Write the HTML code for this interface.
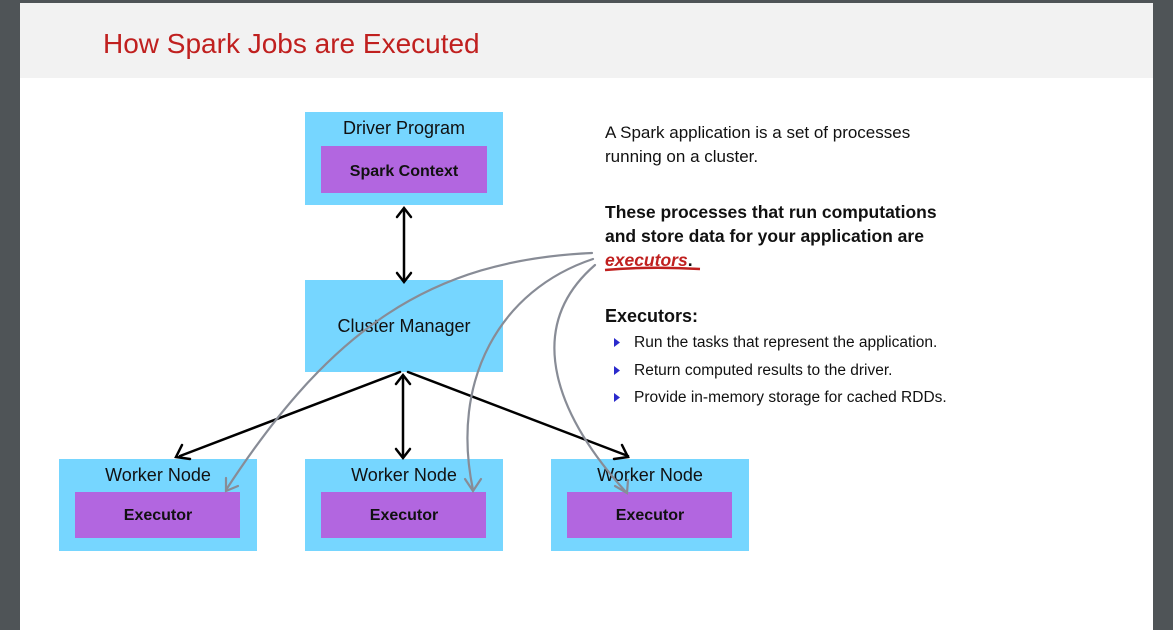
<!DOCTYPE html>
<html><head><meta charset="utf-8"><style>
html,body{margin:0;padding:0}
body{width:1173px;height:630px;background:#4f5457;position:relative;overflow:hidden;font-family:"Liberation Sans","DejaVu Sans",sans-serif}
#page{position:absolute;left:20px;top:3px;width:1133px;height:627px;background:#fff}
#hdr{position:absolute;left:0;top:0;width:1133px;height:75px;background:#f2f2f2}
#title{position:absolute;left:83px;top:25px;font-size:28px;color:#c0201f}
.t{position:absolute;color:#111;font-size:17px;line-height:24px}
</style></head><body>
<div id="page"><div id="hdr"><div id="title">How Spark Jobs are Executed</div></div></div>
<svg width="1173" height="630" style="position:absolute;left:0;top:0">
<g font-family="Liberation Sans, sans-serif">
<rect x="305" y="112" width="198" height="93" fill="#76d6ff"/>
<text x="404" y="134" font-size="18" text-anchor="middle" fill="#111">Driver Program</text>
<rect x="321" y="146" width="166" height="47" fill="#b266e0"/>
<text x="404" y="176" font-size="16" font-weight="bold" text-anchor="middle" fill="#111">Spark Context</text>
<rect x="305" y="280" width="198" height="92" fill="#76d6ff"/>
<text x="404" y="332" font-size="18" text-anchor="middle" fill="#111">Cluster Manager</text>
<rect x="59" y="459" width="198" height="92" fill="#76d6ff"/>
<rect x="305" y="459" width="198" height="92" fill="#76d6ff"/>
<rect x="551" y="459" width="198" height="92" fill="#76d6ff"/>
<rect x="75" y="492" width="165" height="46" fill="#b266e0"/>
<rect x="321" y="492" width="165" height="46" fill="#b266e0"/>
<rect x="567" y="492" width="165" height="46" fill="#b266e0"/>
<g font-size="18" text-anchor="middle" fill="#111">
<text x="158" y="481">Worker Node</text><text x="404" y="481">Worker Node</text><text x="650" y="481">Worker Node</text></g>
<g font-size="16" font-weight="bold" text-anchor="middle" fill="#111">
<text x="158" y="520">Executor</text><text x="404" y="520">Executor</text><text x="650" y="520">Executor</text></g>
</g>
<g stroke="#000" stroke-width="2.5" fill="none" stroke-linecap="round">
<path d="M404 210 L404 280"/><path d="M397 217 L404 208 L411 217"/><path d="M397 273 L404 282 L411 273"/>
<path d="M403 378 L403 456"/><path d="M396 384 L403 375 L410 384"/><path d="M396 449 L403 458 L410 449"/>
<path d="M400 372 L180 456"/><path d="M182 445 L176 457 L190 459"/>
<path d="M408 372 L628 456"/><path d="M614 459 L628 457 L622 445"/>
</g>
<g stroke="#888c96" stroke-width="2.2" fill="none" stroke-linecap="round">
<path d="M592 253 C430 260 330 330 226 490"/><path d="M226 478 L226 491 L238 486"/>
<path d="M593 259 C500 290 450 380 473 490"/><path d="M465 479 L473 491 L481 479"/>
<path d="M595 265 C520 330 560 420 626 492"/><path d="M615 486 L627 493 L628 480"/>
</g>
<path d="M605 270 Q650 266 700 269" stroke="#c0201f" stroke-width="2.5" fill="none"/>
<g fill="#2a2acc"><path d="M614 338 l6 4.5 l-6 4.5z"/><path d="M614 366 l6 4.5 l-6 4.5z"/><path d="M614 393 l6 4.5 l-6 4.5z"/></g>
</svg>
<div class="t" style="left:605px;top:121px">A Spark application is a set of processes<br>running on a cluster.</div>
<div class="t" style="left:605px;top:200px;font-weight:bold;font-size:17.5px">These processes that run computations<br>and store data for your application are<br><i style="color:#c0201f">executors</i>.</div>
<div class="t" style="left:605px;top:304px;font-weight:bold;font-size:18px">Executors:</div>
<div class="t" style="left:634px;top:331px;font-size:15.5px">Run the tasks that represent the application.</div>
<div class="t" style="left:634px;top:359px;font-size:15.5px">Return computed results to the driver.</div>
<div class="t" style="left:634px;top:386px;font-size:15.5px">Provide in-memory storage for cached RDDs.</div>
</body></html>
